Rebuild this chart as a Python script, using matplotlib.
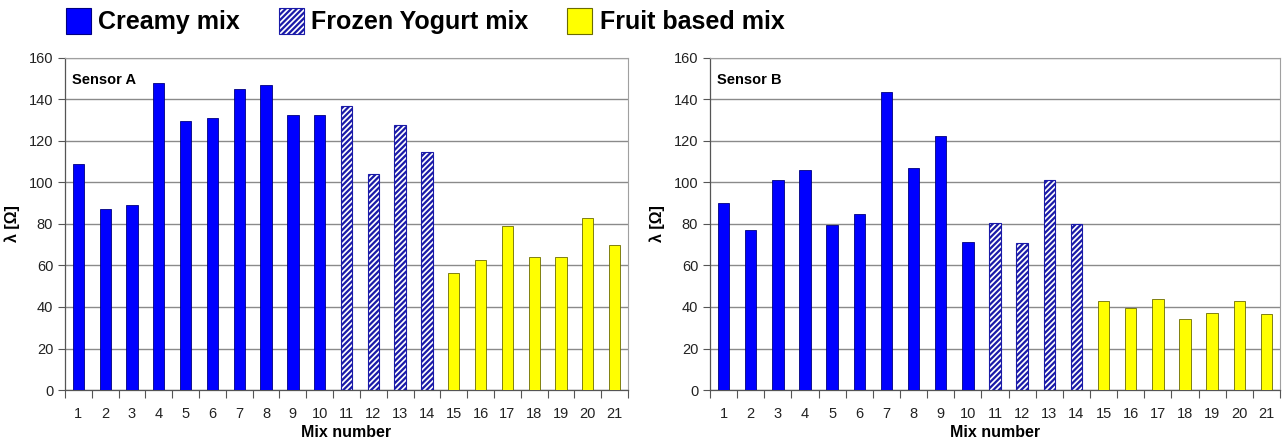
import matplotlib
matplotlib.use("Agg")
import matplotlib.pyplot as plt
from matplotlib.patches import Patch
import numpy as np

plt.rcParams['font.family'] = ['Liberation Sans', 'DejaVu Sans']
plt.rcParams['hatch.linewidth'] = 1.6

mix_numbers = list(range(1, 22))
categories = ["Creamy mix"] * 10 + ["Frozen Yogurt mix"] * 4 + ["Fruit based mix"] * 7
sensor_a = [109, 87, 89, 148, 129.5, 131, 145, 147, 132.5, 132.5,
            137, 104, 127.5, 114.5,
            56.5, 62.5, 79, 64, 64, 83, 70]
sensor_b = [90, 77, 101, 106, 79.5, 85, 143.5, 107, 122.5, 71.5,
            80.5, 71, 101, 80,
            43, 39.5, 44, 34, 37, 43, 36.5]
panel_titles = ["Sensor A", "Sensor B"]
y_ticks = [0, 20, 40, 60, 80, 100, 120, 140, 160]

styles = {
    "Creamy mix": dict(facecolor="#0000ff", edgecolor="#000080", hatch=None, linewidth=0.6),
    "Frozen Yogurt mix": dict(facecolor="#ffffff", edgecolor="#1a1aa8", hatch="//////", linewidth=0.8),
    "Fruit based mix": dict(facecolor="#ffff00", edgecolor="#6b6b00", hatch=None, linewidth=0.6),
}

fig = plt.figure(figsize=(12.82, 4.46), dpi=100)
axes = [fig.add_axes([65 / 1282, 1 - 390 / 446, 563 / 1282, 332 / 446]),
        fig.add_axes([710 / 1282, 1 - 390 / 446, 570 / 1282, 332 / 446])]

for ax, vals, title in zip(axes, [sensor_a, sensor_b], panel_titles):
    x = np.arange(len(mix_numbers))
    for xi, v, c in zip(x, vals, categories):
        st = styles[c]
        ax.bar(xi, v, width=0.42, facecolor=st["facecolor"], edgecolor=st["edgecolor"],
               hatch=st["hatch"], linewidth=st["linewidth"], zorder=3)
    ax.set_xlim(-0.5, len(mix_numbers) - 0.5)
    ax.set_ylim(0, 160)
    ax.set_yticks(y_ticks)
    ax.set_xticks(x)
    ax.set_xticklabels([str(m) for m in mix_numbers])
    ax.set_xticks(np.arange(-0.5, len(mix_numbers), 1.0), minor=True)
    ax.tick_params(axis='x', which='major', length=0, labelsize=10.5, pad=12, colors='#222222')
    ax.tick_params(axis='x', which='minor', length=6, width=0.8, color='#555555')
    ax.tick_params(axis='y', which='major', length=5, width=0.8, labelsize=10.5, color='#555555', labelcolor='#222222')
    ax.yaxis.grid(True, color='#8a8a8a', linewidth=1.0, zorder=0)
    ax.set_axisbelow(True)
    for s in ['top', 'right']:
        ax.spines[s].set_color('#a0a0a0')
        ax.spines[s].set_linewidth(0.8)
    for s in ['left', 'bottom']:
        ax.spines[s].set_color('#555555')
        ax.spines[s].set_linewidth(0.9)
    ax.set_xlabel("Mix number", fontsize=11.5, fontweight='bold', labelpad=3)
    ax.set_ylabel("λ [Ω]", fontsize=11.5, fontweight='bold', labelpad=6)
    ax.text(0.012, 0.955, title, transform=ax.transAxes, fontsize=10.5, fontweight='bold',
            ha='left', va='top')

handles = [Patch(facecolor=styles[k]["facecolor"], edgecolor=styles[k]["edgecolor"],
                 hatch=styles[k]["hatch"], linewidth=0.8, label=k)
           for k in ["Creamy mix", "Frozen Yogurt mix", "Fruit based mix"]]
fig.legend(handles=handles, loc='upper left', bbox_to_anchor=(62 / 1282, 1 - 4 / 446), ncol=3,
           frameon=False, prop={'size': 18, 'weight': 'bold'},
           handlelength=1.0, handleheight=1.25, handletextpad=0.3, columnspacing=1.55,
           borderpad=0.15, borderaxespad=0.0)

fig.savefig("out.png", dpi=100)
